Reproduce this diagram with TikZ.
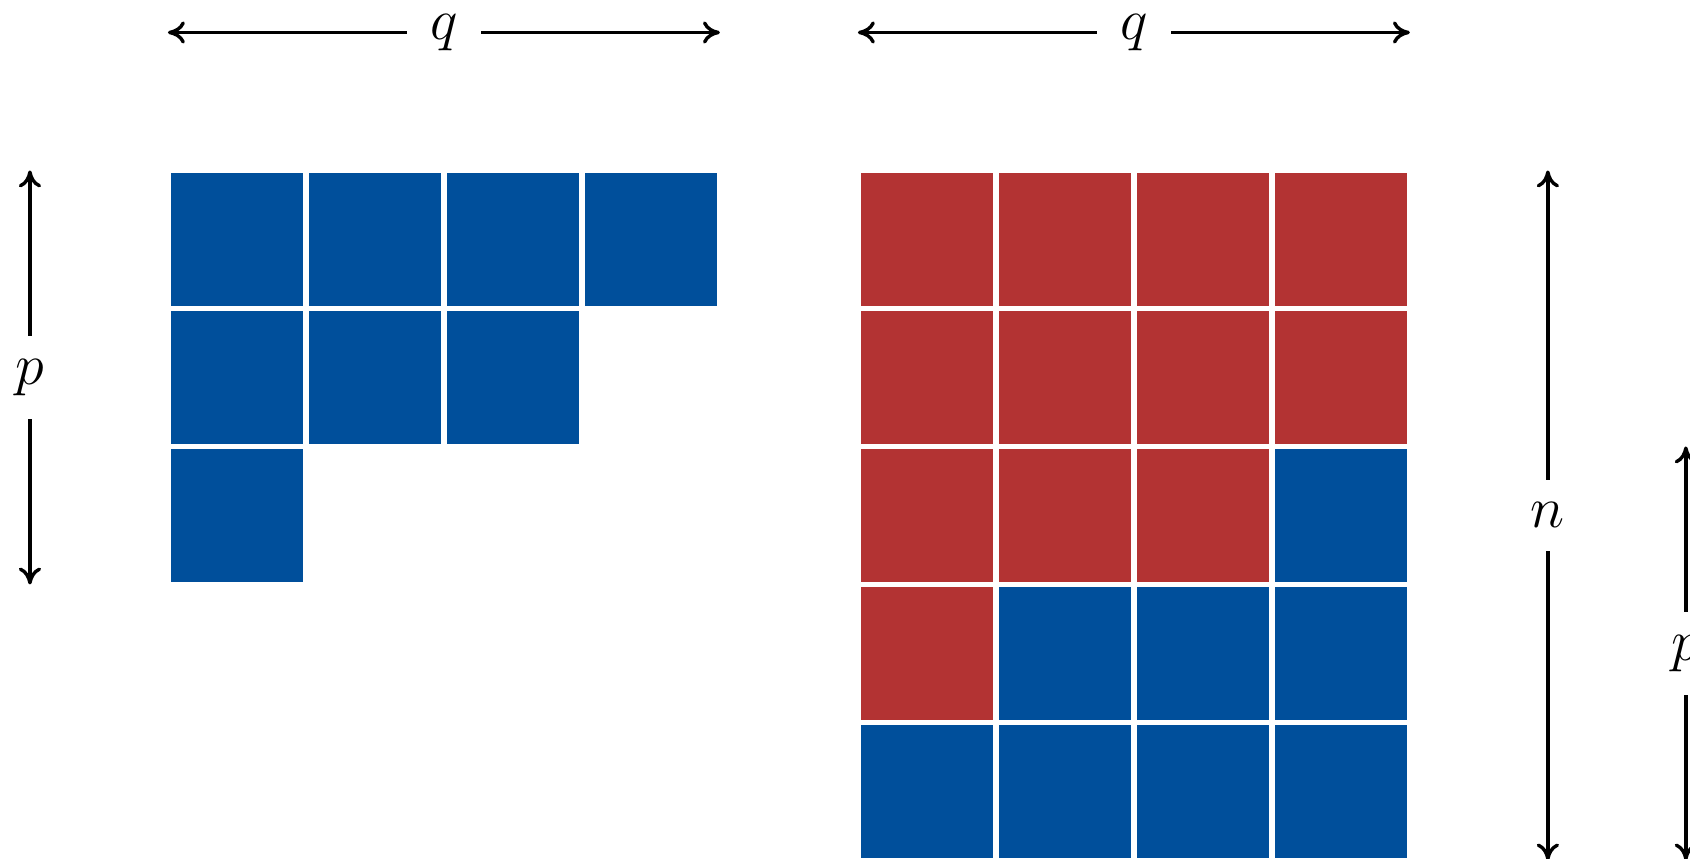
\documentclass[tikz,border=0pt]{standalone}
\usetikzlibrary{arrows.meta}
\definecolor{cblue}{RGB}{0,79,155}
\definecolor{cred}{RGB}{179,51,51}
\begin{document}
\begin{tikzpicture}[x=1cm,y=1cm,
  cell/.style={rectangle,minimum size=1cm,inner sep=0pt,outer sep=0pt,draw=white,line width=1.17pt},
  bcell/.style={cell,fill=cblue},
  rcell/.style={cell,fill=cred},
  dim/.style={line width=0.7pt,{To[length=3.5pt,width=4.6pt]}-{To[length=3.5pt,width=4.6pt]}},
  lbl/.style={fill=white,inner sep=4.8pt,font=\fontsize{12.8}{15}\selectfont}]
\useasboundingbox (-1.217,1.2355) rectangle (11.03,-4.989);
% left grid
\node[bcell] (l11) at (0.5,-0.5) {};
\node[bcell] (l12) at (1.5,-0.5) {};
\node[bcell] (l13) at (2.5,-0.5) {};
\node[bcell] (l14) at (3.5,-0.5) {};
\node[bcell] (l21) at (0.5,-1.5) {};
\node[bcell] (l22) at (1.5,-1.5) {};
\node[bcell] (l23) at (2.5,-1.5) {};
\node[bcell] (l31) at (0.5,-2.5) {};
% right grid
\node[rcell] (r11) at (5.5,-0.5) {};
\node[rcell] (r12) at (6.5,-0.5) {};
\node[rcell] (r13) at (7.5,-0.5) {};
\node[rcell] (r14) at (8.5,-0.5) {};
\node[rcell] (r21) at (5.5,-1.5) {};
\node[rcell] (r22) at (6.5,-1.5) {};
\node[rcell] (r23) at (7.5,-1.5) {};
\node[rcell] (r24) at (8.5,-1.5) {};
\node[rcell] (r31) at (5.5,-2.5) {};
\node[rcell] (r32) at (6.5,-2.5) {};
\node[rcell] (r33) at (7.5,-2.5) {};
\node[bcell] (r34) at (8.5,-2.5) {};
\node[rcell] (r41) at (5.5,-3.5) {};
\node[bcell] (r42) at (6.5,-3.5) {};
\node[bcell] (r43) at (7.5,-3.5) {};
\node[bcell] (r44) at (8.5,-3.5) {};
\node[bcell] (r51) at (5.5,-4.5) {};
\node[bcell] (r52) at (6.5,-4.5) {};
\node[bcell] (r53) at (7.5,-4.5) {};
\node[bcell] (r54) at (8.5,-4.5) {};
% dimension end points
\coordinate (qla) at (0,1);
\coordinate (qlb) at (4,1);
\coordinate (qra) at (5,1);
\coordinate (qrb) at (9,1);
\coordinate (pla) at (-1,0);
\coordinate (plb) at (-1,-3);
\coordinate (na) at (10,0);
\coordinate (nb) at (10,-5);
\coordinate (pra) at (11,-2);
\coordinate (prb) at (11,-5);
\draw[dim] (qla) -- node[lbl] {$q$} (qlb);
\draw[dim] (qra) -- node[lbl] {$q$} (qrb);
\draw[dim] (pla) -- node[lbl] {$p$} (plb);
\draw[dim] (na) -- node[lbl] {$n$} (nb);
\draw[dim] (pra) -- node[lbl] {$p$} (prb);
\end{tikzpicture}
\end{document}
